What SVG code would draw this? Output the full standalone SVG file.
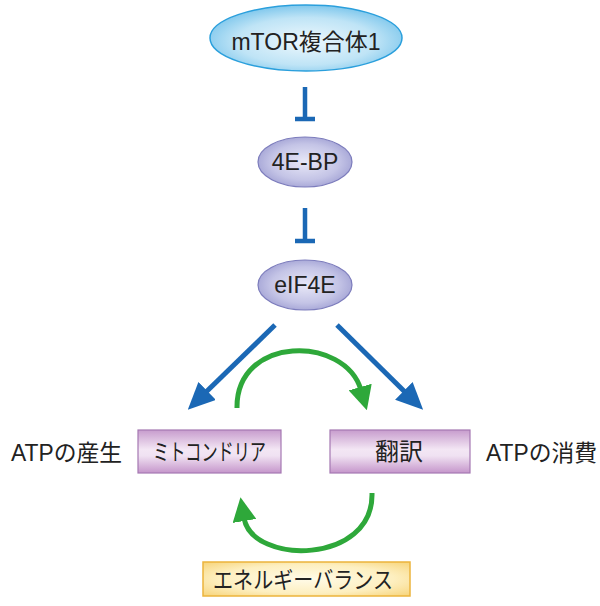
<svg xmlns="http://www.w3.org/2000/svg" width="600" height="606" viewBox="0 0 600 606">
<defs>
<radialGradient id="gBlue" cx="0.5" cy="0.55" r="0.6">
<stop offset="0" stop-color="#eef8fd"/>
<stop offset="0.6" stop-color="#bfe4f6"/>
<stop offset="1" stop-color="#6fc0ea"/>
</radialGradient>
<radialGradient id="gLav" cx="0.5" cy="0.5" r="0.6">
<stop offset="0" stop-color="#e8e8f7"/>
<stop offset="0.6" stop-color="#c4c4e6"/>
<stop offset="1" stop-color="#9898cf"/>
</radialGradient>
<linearGradient id="gPurp" x1="0" y1="0" x2="0" y2="1">
<stop offset="0" stop-color="#c79ccd"/>
<stop offset="0.45" stop-color="#f3e6f4"/>
<stop offset="0.6" stop-color="#f0e2f2"/>
<stop offset="1" stop-color="#c596cb"/>
</linearGradient>
<radialGradient id="gYel" cx="0.5" cy="0.5" r="0.7">
<stop offset="0" stop-color="#fffbe8"/>
<stop offset="0.6" stop-color="#fdefc0"/>
<stop offset="1" stop-color="#f7d47a"/>
</radialGradient>
<marker id="mBlue" markerUnits="userSpaceOnUse" markerWidth="27" markerHeight="25" viewBox="0 0 27 25" refX="3" refY="12.5" orient="auto">
<path d="M0,0 L27,12.5 L0,25 z" fill="#1b68b5"/>
</marker>
<marker id="mGreen" markerUnits="userSpaceOnUse" markerWidth="24" markerHeight="24" viewBox="0 0 24 24" refX="3" refY="12" orient="auto">
<path d="M0,0 L24,12 L0,24 z" fill="#2ea83a"/>
</marker>
</defs>
<style>
.t{font-family:"Liberation Sans","Noto Sans CJK JP",sans-serif;fill:#222;text-anchor:middle}
.lbl{font-family:"Liberation Sans","Noto Sans CJK JP",sans-serif;fill:#222}
.inh{stroke:#1b68b5;stroke-width:4.5;fill:none}
.blue{stroke:#1b68b5;stroke-width:5;fill:none;marker-end:url(#mBlue)}
.green{stroke:#2ea83a;stroke-width:5;fill:none;marker-end:url(#mGreen)}
</style>
<g id="connectors">
<path class="inh" d="M305,87 V119 M295,119 H315"/>
<path class="inh" d="M305,208 V241 M295,241 H315"/>
<path class="blue" d="M275,325 L205,393"/>
<path class="blue" d="M337,325 L406,393"/>
<path class="green" d="M237,408 C236,335 345,335 361,390"/>
<path class="green" d="M372,493 C374,565 252,565 244,518"/>
</g>
<g id="mtor">
<ellipse cx="306" cy="38" rx="96" ry="33" fill="url(#gBlue)" stroke="#2a9fdc" stroke-width="1.5"/>
<text class="t" x="306" y="50" font-size="23">mTOR複合体1</text>
</g>
<g id="4ebp">
<ellipse cx="305" cy="162" rx="47" ry="25" fill="url(#gLav)" stroke="#7c7cbc" stroke-width="1.2"/>
<text class="t" x="305" y="170" font-size="23">4E-BP</text>
</g>
<g id="eif4e">
<ellipse cx="305" cy="285" rx="47" ry="25" fill="url(#gLav)" stroke="#7c7cbc" stroke-width="1.2"/>
<text class="t" x="305" y="293" font-size="23">eIF4E</text>
</g>
<g id="mito">
<rect x="138" y="430" width="143" height="43" fill="url(#gPurp)" stroke="#a578b2" stroke-width="1.2"/>
<text class="t" x="209.5" y="460" font-size="23" textLength="113" lengthAdjust="spacingAndGlyphs">ミトコンドリア</text>
</g>
<g id="honyaku">
<rect x="330" y="430" width="140" height="43" fill="url(#gPurp)" stroke="#a578b2" stroke-width="1.2"/>
<text class="t" x="399" y="460" font-size="24">翻訳</text>
</g>
<g id="energy">
<rect x="203" y="562" width="207" height="34" fill="url(#gYel)" stroke="#ecb43c" stroke-width="1.5"/>
<text class="t" x="303" y="588" font-size="23" textLength="180" lengthAdjust="spacingAndGlyphs">エネルギーバランス</text>
</g>
<g id="atp-prod">
<text class="lbl" x="11" y="461" font-size="23" textLength="111" lengthAdjust="spacingAndGlyphs">ATPの産生</text>
</g>
<g id="atp-cons">
<text class="lbl" x="486" y="461" font-size="23" textLength="111" lengthAdjust="spacingAndGlyphs">ATPの消費</text>
</g>
</svg>
